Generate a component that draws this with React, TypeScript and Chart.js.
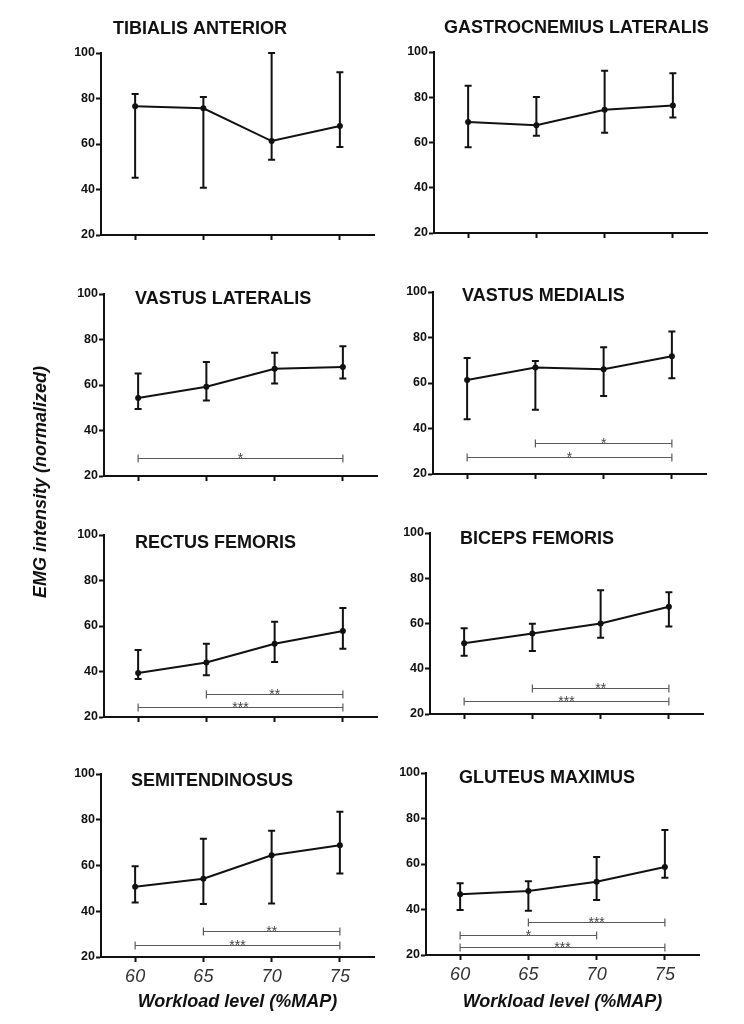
import React, { useEffect, useRef } from "react";
import { Chart, registerables } from "chart.js";

Chart.register(...registerables);

// ---------- DATA ----------
const workloadLevels = [60, 65, 70, 75];
const yTickValues = [20, 40, 60, 80, 100];
const xAxisTitle = "Workload level (%MAP)";
const yAxisTitle = "EMG intensity (normalized)";

const muscleNames = [
  "TIBIALIS ANTERIOR",
  "GASTROCNEMIUS LATERALIS",
  "VASTUS LATERALIS",
  "VASTUS MEDIALIS",
  "RECTUS FEMORIS",
  "BICEPS FEMORIS",
  "SEMITENDINOSUS",
  "GLUTEUS MAXIMUS",
];

const taMean = [76.6, 75.7, 61.3, 67.9];
const taLow = [45.2, 40.8, 53.1, 58.7];
const taHigh = [82.0, 80.7, 100.0, 91.5];

const glMean = [69.1, 67.6, 74.5, 76.3];
const glLow = [57.9, 63.0, 64.3, 71.0];
const glHigh = [85.1, 80.1, 91.7, 90.6];

const vlMean = [54.3, 59.2, 67.1, 67.9];
const vlLow = [49.4, 53.2, 60.7, 62.9];
const vlHigh = [65.1, 70.1, 74.2, 77.0];

const vmMean = [61.3, 66.8, 66.0, 71.8];
const vmLow = [44.1, 48.2, 54.3, 62.1];
const vmHigh = [71.0, 69.7, 75.7, 82.6];

const rfMean = [39.3, 44.0, 52.2, 57.8];
const rfLow = [36.7, 38.3, 44.2, 50.0];
const rfHigh = [49.5, 52.2, 61.9, 67.9];

const bfMean = [51.3, 55.6, 60.0, 67.4];
const bfLow = [45.7, 47.9, 53.7, 58.7];
const bfHigh = [57.9, 59.9, 74.7, 73.8];

const stMean = [50.7, 54.2, 64.5, 68.9];
const stLow = [43.8, 43.2, 43.4, 56.5];
const stHigh = [59.7, 71.7, 75.2, 83.5];

const gmMean = [46.7, 48.1, 52.2, 58.7];
const gmLow = [39.8, 39.5, 44.2, 54.0];
const gmHigh = [51.5, 52.4, 63.1, 74.9];

type Bracket = { from: number; to: number; y: number; stars: string };

const taBrackets: Bracket[] = [];
const glBrackets: Bracket[] = [];
const vlBrackets: Bracket[] = [{ from: 60, to: 75, y: 27.9, stars: "*" }];
const vmBrackets: Bracket[] = [
  { from: 65, to: 75, y: 33.5, stars: "*" },
  { from: 60, to: 75, y: 27.5, stars: "*" },
];
const rfBrackets: Bracket[] = [
  { from: 65, to: 75, y: 30.1, stars: "**" },
  { from: 60, to: 75, y: 24.4, stars: "***" },
];
const bfBrackets: Bracket[] = [
  { from: 65, to: 75, y: 31.5, stars: "**" },
  { from: 60, to: 75, y: 25.9, stars: "***" },
];
const stBrackets: Bracket[] = [
  { from: 65, to: 75, y: 31.2, stars: "**" },
  { from: 60, to: 75, y: 25.1, stars: "***" },
];
const gmBrackets: Bracket[] = [
  { from: 65, to: 75, y: 34.5, stars: "***" },
  { from: 60, to: 70, y: 28.8, stars: "*" },
  { from: 60, to: 75, y: 23.7, stars: "***" },
];

const panelMeans = [taMean, glMean, vlMean, vmMean, rfMean, bfMean, stMean, gmMean];
const panelLows = [taLow, glLow, vlLow, vmLow, rfLow, bfLow, stLow, gmLow];
const panelHighs = [taHigh, glHigh, vlHigh, vmHigh, rfHigh, bfHigh, stHigh, gmHigh];
const panelBrackets = [taBrackets, glBrackets, vlBrackets, vmBrackets, rfBrackets, bfBrackets, stBrackets, gmBrackets];

// ---------- LAYOUT (page pixels of each plot area) ----------
type PanelLayout = {
  left: number;
  right: number;
  top: number;
  bottom: number;
  titleDx: number;
  titleDy: number;
  bottomRow: boolean;
};

const panelLayouts: PanelLayout[] = [
  { left: 101, right: 374, top: 53, bottom: 235, titleDx: 12, titleDy: -24, bottomRow: false },
  { left: 434, right: 707, top: 52, bottom: 233, titleDx: 10, titleDy: -24, bottomRow: false },
  { left: 104, right: 377, top: 294, bottom: 476, titleDx: 31, titleDy: 5, bottomRow: false },
  { left: 433, right: 706, top: 292, bottom: 474, titleDx: 29, titleDy: 4, bottomRow: false },
  { left: 104, right: 377, top: 535, bottom: 717, titleDx: 31, titleDy: 8, bottomRow: false },
  { left: 430, right: 703, top: 533, bottom: 714, titleDx: 30, titleDy: 6, bottomRow: false },
  { left: 101, right: 374, top: 774, bottom: 957, titleDx: 30, titleDy: 7, bottomRow: true },
  { left: 426, right: 699, top: 773, bottom: 955, titleDx: 33, titleDy: 5, bottomRow: true },
];

const FONT = '"Liberation Sans", Arial, Helvetica, sans-serif';
const INK = "#111111";
const Y_AXIS_W = 50;
const X_AXIS_TITLE_Y = 1002;

function Panel({ index }: { index: number }) {
  const ref = useRef<HTMLCanvasElement | null>(null);
  const lay = panelLayouts[index];
  const cx = lay.left - 60;
  const cy = lay.top - 40;
  const cw = lay.right + 10 - cx;
  const ch = lay.bottom + (lay.bottomRow ? 62 : 20) - cy;
  const xAxisH = lay.bottomRow ? 60 : 10;

  useEffect(() => {
    const canvas = ref.current;
    if (!canvas) return;
    const mean = panelMeans[index];
    const low = panelLows[index];
    const high = panelHighs[index];
    const brackets = panelBrackets[index];
    const name = muscleNames[index];

    const errorBars = {
      id: "errorBars" + index,
      beforeDatasetsDraw(chart: any) {
        const { ctx, scales } = chart;
        const xs = scales.x;
        const ys = scales.y;
        ctx.save();
        ctx.strokeStyle = INK;
        ctx.lineWidth = 2;
        ctx.lineCap = "butt";
        workloadLevels.forEach((lv, i) => {
          const px = xs.getPixelForValue(lv);
          const pLo = ys.getPixelForValue(low[i]);
          const pHi = ys.getPixelForValue(high[i]);
          ctx.beginPath();
          ctx.moveTo(px, pLo);
          ctx.lineTo(px, pHi);
          ctx.moveTo(px - 3.5, pLo);
          ctx.lineTo(px + 3.5, pLo);
          ctx.moveTo(px - 3.5, pHi);
          ctx.lineTo(px + 3.5, pHi);
          ctx.stroke();
        });
        ctx.restore();
      },
    };

    const sigBrackets = {
      id: "sigBrackets" + index,
      afterDatasetsDraw(chart: any) {
        const { ctx, scales } = chart;
        const xs = scales.x;
        const ys = scales.y;
        ctx.save();
        brackets.forEach((b) => {
          const x1 = xs.getPixelForValue(b.from);
          const x2 = xs.getPixelForValue(b.to);
          const py = Math.round(ys.getPixelForValue(b.y)) + 0.5;
          ctx.strokeStyle = "#5a5a5a";
          ctx.lineWidth = 1.2;
          ctx.beginPath();
          ctx.moveTo(x1, py);
          ctx.lineTo(x2, py);
          ctx.moveTo(x1, py - 4);
          ctx.lineTo(x1, py + 4);
          ctx.moveTo(x2, py - 4);
          ctx.lineTo(x2, py + 4);
          ctx.stroke();
          ctx.fillStyle = "#444444";
          ctx.font = `14px ${FONT}`;
          ctx.textAlign = "center";
          ctx.textBaseline = "alphabetic";
          ctx.fillText(b.stars, (x1 + x2) / 2, py + 4.5);
        });
        ctx.restore();
      },
    };

    const panelTitle = {
      id: "panelTitle" + index,
      afterDraw(chart: any) {
        const { ctx, chartArea } = chart;
        ctx.save();
        ctx.fillStyle = INK;
        ctx.font = `bold 18px ${FONT}`;
        ctx.textAlign = "left";
        ctx.textBaseline = "middle";
        ctx.fillText(name, chartArea.left + lay.titleDx, chartArea.top + lay.titleDy);
        ctx.restore();
      },
    };

    const titleFontLine = 18 * 1.2;
    const titlePadBottom = lay.bottom + xAxisH - titleFontLine / 2 - X_AXIS_TITLE_Y;

    const chart = new Chart(canvas, {
      type: "line",
      data: {
        datasets: [
          {
            data: workloadLevels.map((lv, i) => ({ x: lv, y: mean[i] })),
            borderColor: INK,
            backgroundColor: INK,
            borderWidth: 2,
            pointRadius: 3,
            pointBackgroundColor: INK,
            pointBorderColor: INK,
            pointBorderWidth: 0,
            tension: 0,
            fill: false,
          },
        ],
      },
      options: {
        animation: false,
        responsive: false,
        maintainAspectRatio: false,
        events: [],
        layout: {
          padding: {
            left: lay.left - cx - Y_AXIS_W,
            top: lay.top - cy,
            right: cx + cw - lay.right,
            bottom: ch - (lay.bottom - cy) - xAxisH,
          },
        },
        plugins: {
          legend: { display: false },
          tooltip: { enabled: false },
          title: { display: false },
        },
        scales: {
          x: {
            type: "linear",
            min: 57.5,
            max: 77.5,
            afterBuildTicks: (s: any) => {
              s.ticks = workloadLevels.map((v) => ({ value: v }));
            },
            afterFit: (s: any) => {
              s.height = xAxisH;
            },
            grid: {
              display: true,
              drawOnChartArea: false,
              drawTicks: true,
              tickLength: 5,
              tickColor: INK,
              tickWidth: 2,
            },
            border: { display: true, color: INK, width: 2 },
            ticks: {
              display: lay.bottomRow,
              autoSkip: false,
              maxRotation: 0,
              padding: 4,
              color: "#333333",
              font: { family: FONT, size: 18, style: "italic", weight: "normal" },
              callback: (v: any) => String(v),
            },
            title: {
              display: lay.bottomRow,
              text: xAxisTitle,
              color: INK,
              font: { family: FONT, size: 18, style: "italic", weight: "bold" },
              padding: { top: 0, bottom: titlePadBottom },
            },
          },
          y: {
            type: "linear",
            min: 20,
            max: 100,
            afterBuildTicks: (s: any) => {
              s.ticks = yTickValues.map((v) => ({ value: v }));
            },
            afterFit: (s: any) => {
              s.width = Y_AXIS_W;
            },
            grid: {
              display: true,
              drawOnChartArea: false,
              drawTicks: true,
              tickLength: 5,
              tickColor: INK,
              tickWidth: 2,
            },
            border: { display: true, color: INK, width: 2 },
            ticks: {
              padding: 1,
              color: INK,
              font: { family: FONT, size: 12.5, weight: "bold" },
              callback: (v: any) => String(v),
            },
          },
        },
      } as any,
      plugins: [errorBars, sigBrackets, panelTitle],
    });
    return () => chart.destroy();
  }, [index]);

  return (
    <canvas
      ref={ref}
      width={cw}
      height={ch}
      style={{ position: "absolute", left: cx, top: cy, width: cw, height: ch }}
    />
  );
}

export default function App() {
  return (
    <div
      style={{
        position: "absolute",
        left: 0,
        top: 0,
        width: 744,
        height: 1024,
        background: "#ffffff",
        overflow: "hidden",
      }}
    >
      {panelLayouts.map((_, i) => (
        <Panel key={i} index={i} />
      ))}
      <div
        style={{
          position: "absolute",
          left: 41 - 150,
          top: 482 - 11,
          width: 300,
          height: 22,
          lineHeight: "22px",
          textAlign: "center",
          transform: "rotate(-90deg)",
          transformOrigin: "50% 50%",
          font: `italic bold 18px ${FONT}`,
          color: INK,
          whiteSpace: "nowrap",
        }}
      >
        {yAxisTitle}
      </div>
    </div>
  );
}
